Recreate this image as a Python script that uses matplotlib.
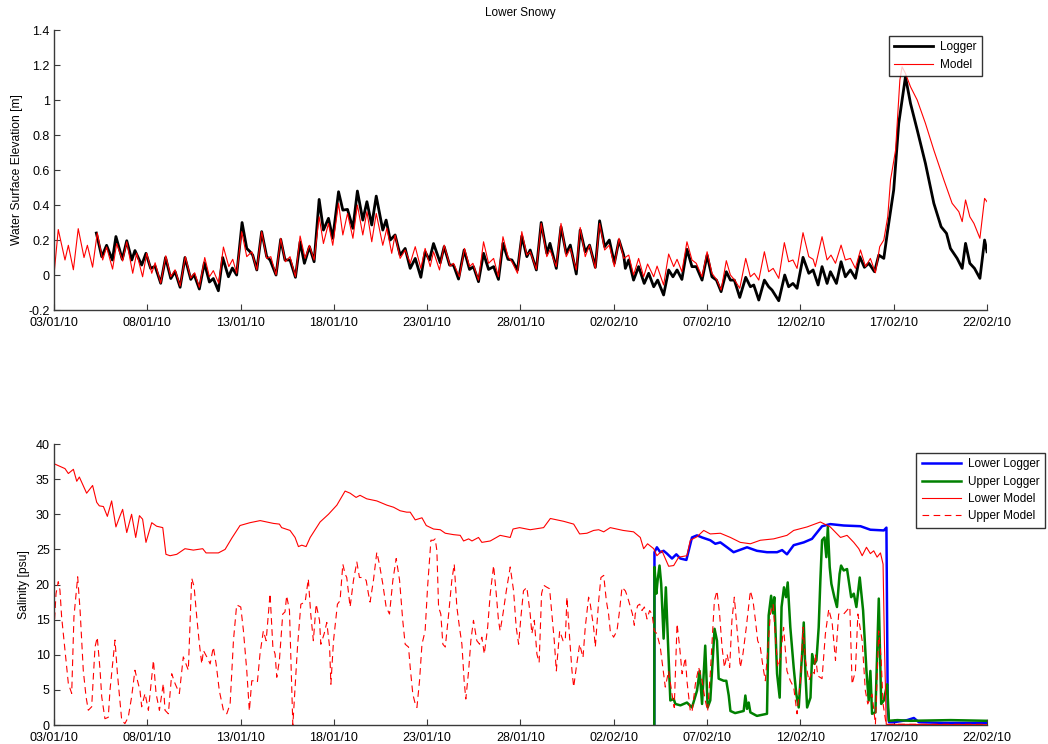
import numpy as np
import pandas as pd
import matplotlib
matplotlib.use("Agg")
import matplotlib.pyplot as plt
from matplotlib.ticker import FuncFormatter

plt.rcParams['font.family'] = ['Liberation Sans', 'DejaVu Sans']

# ---- data (day offset from 03/01/10, value) ----
START = pd.Timestamp('2010-01-03')
tick_dates = pd.date_range('2010-01-03', '2010-02-22', freq='5D')

# Water surface elevation [m]
elev_logger = [
    (2.27, 0.24), (2.56, 0.105), (2.82, 0.17), (3.13, 0.086), (3.32, 0.22), (3.66, 0.09),
    (3.9, 0.196), (4.17, 0.086), (4.34, 0.14), (4.7, 0.057), (4.93, 0.124), (5.18, 0.038),
    (5.42, 0.05), (5.72, -0.047), (5.98, 0.1), (6.26, -0.02), (6.49, 0.02), (6.76, -0.07),
    (7.02, 0.1), (7.33, -0.025), (7.51, 0.003), (7.79, -0.08), (8.06, 0.07), (8.33, -0.04),
    (8.54, -0.02), (8.81, -0.09), (9.04, 0.1), (9.35, -0.01), (9.56, 0.04), (9.79, 0.0),
    (10.08, 0.30), (10.33, 0.152), (10.51, 0.133), (10.65, 0.114), (10.87, 0.029),
    (11.13, 0.248), (11.4, 0.105), (11.58, 0.086), (11.9, 0.0), (12.15, 0.204),
    (12.38, 0.086), (12.65, 0.086), (12.94, -0.013), (13.19, 0.19), (13.42, 0.067),
    (13.69, 0.162), (13.94, 0.076), (14.21, 0.432), (14.44, 0.257), (14.71, 0.324),
    (14.94, 0.21), (15.25, 0.476), (15.48, 0.371), (15.73, 0.375), (16.02, 0.267),
    (16.26, 0.48), (16.55, 0.314), (16.77, 0.419), (17.03, 0.286), (17.27, 0.451),
    (17.62, 0.257), (17.8, 0.314), (18.02, 0.2), (18.28, 0.229), (18.55, 0.114),
    (18.82, 0.152), (19.09, 0.038), (19.36, 0.095), (19.66, -0.013), (19.89, 0.133),
    (20.12, 0.086), (20.34, 0.18), (20.7, 0.07), (20.91, 0.162), (21.2, 0.057),
    (21.41, 0.057), (21.68, -0.023), (21.98, 0.143), (22.27, 0.032), (22.48, 0.048),
    (22.75, -0.038), (23.02, 0.124), (23.29, 0.032), (23.56, 0.048), (23.82, -0.025),
    (24.06, 0.181), (24.33, 0.09), (24.54, 0.086), (24.84, 0.029), (25.07, 0.223),
    (25.34, 0.105), (25.52, 0.143), (25.85, 0.029), (26.11, 0.3), (26.41, 0.124),
    (26.58, 0.181), (26.92, 0.038), (27.17, 0.276), (27.45, 0.124), (27.67, 0.171),
    (27.99, 0.006), (28.2, 0.257), (28.47, 0.133), (28.7, 0.171), (29.01, 0.044),
    (29.24, 0.31), (29.51, 0.162), (29.76, 0.2), (30.03, 0.067), (30.28, 0.2),
    (30.53, 0.114), (30.62, 0.038), (30.8, 0.086), (31.06, -0.029), (31.33, 0.048),
    (31.63, -0.048), (31.87, 0.01), (32.14, -0.067), (32.35, -0.029), (32.67, -0.114),
    (32.94, 0.029), (33.17, -0.01), (33.39, 0.029), (33.65, -0.025), (33.92, 0.147),
    (34.19, 0.048), (34.42, 0.048), (34.73, -0.029), (35.0, 0.114), (35.26, -0.01),
    (35.5, -0.029), (35.75, -0.095), (36.03, 0.019), (36.25, -0.029), (36.46, -0.029),
    (36.75, -0.128), (37.07, -0.013), (37.32, -0.067), (37.5, -0.057), (37.77, -0.143),
    (38.07, -0.029), (38.3, -0.067), (38.48, -0.086), (38.84, -0.147), (39.16, 0.0),
    (39.37, -0.067), (39.6, -0.048), (39.82, -0.076), (40.14, 0.101), (40.45, 0.01),
    (40.68, 0.029), (40.95, -0.057), (41.16, 0.048), (41.43, -0.048), (41.61, 0.019),
    (41.93, -0.048), (42.18, 0.076), (42.41, -0.01), (42.68, 0.029), (42.95, -0.019),
    (43.18, 0.105), (43.43, 0.044), (43.67, 0.067), (43.97, 0.019), (44.2, 0.114),
    (44.47, 0.095), (44.68, 0.257), (45.0, 0.486), (45.27, 0.867), (45.63, 1.133),
    (45.9, 0.981), (46.26, 0.829), (46.7, 0.638), (47.15, 0.41), (47.54, 0.276),
    (47.83, 0.238), (48.04, 0.152), (48.4, 0.095), (48.67, 0.038), (48.85, 0.181),
    (49.08, 0.067), (49.33, 0.038), (49.62, -0.019), (49.87, 0.2), (50.0, 0.133),
]

elev_model = [
    (0.0, 0.0), (0.23, 0.26), (0.59, 0.086), (0.77, 0.17), (1.04, 0.03), (1.3, 0.265),
    (1.61, 0.10), (1.79, 0.17), (2.07, 0.045), (2.32, 0.24), (2.61, 0.086), (2.82, 0.16),
    (3.14, 0.034), (3.36, 0.18), (3.68, 0.08), (3.9, 0.19), (4.22, 0.01), (4.43, 0.125),
    (4.75, -0.01), (4.97, 0.125), (5.24, 0.01), (5.42, 0.07), (5.72, -0.047), (5.99, 0.11),
    (6.26, -0.01), (6.49, 0.03), (6.76, -0.063), (7.04, 0.105), (7.33, -0.018), (7.54, 0.013),
    (7.79, -0.07), (8.08, 0.1), (8.33, -0.01), (8.54, 0.025), (8.83, -0.047), (9.08, 0.16),
    (9.37, 0.048), (9.58, 0.09), (9.79, 0.01), (10.06, 0.248), (10.33, 0.105), (10.6, 0.133),
    (10.87, 0.029), (11.13, 0.248), (11.4, 0.095), (11.62, 0.105), (11.9, 0.0), (12.15, 0.21),
    (12.4, 0.076), (12.65, 0.105), (12.94, -0.01), (13.19, 0.223), (13.46, 0.095),
    (13.69, 0.17), (13.94, 0.086), (14.21, 0.333), (14.44, 0.18), (14.71, 0.295),
    (14.94, 0.17), (15.25, 0.41), (15.48, 0.229), (15.73, 0.352), (16.02, 0.21),
    (16.26, 0.40), (16.55, 0.229), (16.77, 0.362), (17.03, 0.19), (17.27, 0.352),
    (17.62, 0.17), (17.84, 0.267), (18.1, 0.124), (18.28, 0.229), (18.55, 0.095),
    (18.82, 0.143), (19.09, 0.067), (19.36, 0.162), (19.66, 0.038), (19.89, 0.152),
    (20.16, 0.048), (20.34, 0.133), (20.66, 0.029), (20.91, 0.171), (21.23, 0.051),
    (21.41, 0.067), (21.73, -0.01), (22.0, 0.152), (22.27, 0.048), (22.45, 0.067),
    (22.75, -0.029), (23.02, 0.19), (23.29, 0.067), (23.56, 0.095), (23.82, -0.01),
    (24.06, 0.219), (24.33, 0.105), (24.54, 0.076), (24.84, 0.01), (25.07, 0.248),
    (25.34, 0.114), (25.52, 0.133), (25.85, 0.032), (26.11, 0.295), (26.41, 0.105),
    (26.58, 0.143), (26.92, 0.048), (27.17, 0.295), (27.45, 0.105), (27.67, 0.152),
    (27.99, 0.029), (28.2, 0.272), (28.47, 0.105), (28.7, 0.171), (29.01, 0.038),
    (29.24, 0.295), (29.51, 0.143), (29.76, 0.171), (30.03, 0.048), (30.28, 0.21),
    (30.53, 0.095), (30.8, 0.114), (31.06, 0.0), (31.33, 0.095), (31.6, -0.01),
    (31.81, 0.063), (32.14, -0.01), (32.32, 0.051), (32.67, -0.057), (32.94, 0.12),
    (33.21, 0.048), (33.39, 0.09), (33.65, 0.019), (33.92, 0.19), (34.19, 0.086),
    (34.42, 0.067), (34.73, -0.01), (35.0, 0.133), (35.26, 0.01), (35.53, -0.029),
    (35.75, -0.086), (36.03, 0.082), (36.25, 0.0), (36.48, -0.029), (36.75, -0.076),
    (37.07, 0.095), (37.32, -0.01), (37.53, 0.01), (37.77, -0.029), (38.07, 0.133),
    (38.3, 0.019), (38.54, 0.038), (38.84, -0.019), (39.14, 0.185), (39.37, 0.076),
    (39.6, 0.086), (39.82, 0.038), (40.14, 0.242), (40.45, 0.105), (40.68, 0.09),
    (40.8, 0.048), (41.16, 0.219), (41.43, 0.086), (41.64, 0.114), (41.88, 0.067),
    (42.18, 0.171), (42.41, 0.086), (42.68, 0.095), (42.95, 0.038), (43.22, 0.143),
    (43.49, 0.048), (43.75, 0.095), (44.02, 0.013), (44.25, 0.162), (44.47, 0.2),
    (44.68, 0.333), (44.83, 0.543), (45.1, 0.714), (45.33, 1.114), (45.45, 1.19),
    (45.63, 1.152), (45.9, 1.076), (46.26, 1.0), (46.7, 0.867), (47.15, 0.714),
    (47.69, 0.543), (48.13, 0.41), (48.49, 0.362), (48.67, 0.305), (48.85, 0.429),
    (49.08, 0.333), (49.3, 0.295), (49.62, 0.21), (49.87, 0.438), (50.0, 0.419),
]

# Salinity [psu]
sal_lower_logger = [
    (32.17, 0.0), (32.18, 24.6), (32.31, 25.3), (32.49, 24.6), (32.67, 24.8), (32.85, 24.4),
    (33.12, 23.7), (33.35, 24.3), (33.57, 23.7), (33.89, 23.5), (34.19, 26.7), (34.46, 27.0),
    (34.73, 26.7), (35.17, 26.3), (35.44, 25.8), (35.71, 26.0), (36.07, 25.3), (36.42, 24.6),
    (37.14, 25.3), (37.67, 24.8), (38.21, 24.6), (38.75, 24.6), (39.02, 24.9), (39.28, 24.3),
    (39.64, 25.6), (40.18, 26.0), (40.62, 26.5), (41.16, 28.3), (41.6, 28.6), (42.32, 28.4),
    (43.22, 28.3), (43.75, 27.8), (44.47, 27.7), (44.61, 28.1), (44.68, 2.5), (44.75, 0.4),
    (45.0, 0.4), (45.72, 0.7), (46.08, 1.0), (46.35, 0.4), (47.69, 0.3), (50.0, 0.3),
]

sal_upper_logger = [
    (32.17, 0.0), (32.18, 22.5), (32.28, 18.7), (32.35, 20.6), (32.45, 22.7), (32.54, 20.1),
    (32.67, 12.3), (32.79, 19.6), (32.9, 12.0), (33.03, 3.5), (33.21, 3.7), (33.3, 3.0),
    (33.57, 2.8), (33.92, 3.2), (34.19, 2.5), (34.46, 4.9), (34.6, 7.7), (34.73, 3.0),
    (34.9, 11.3), (35.03, 2.5), (35.17, 3.5), (35.4, 13.7), (35.53, 12.0), (35.62, 6.6),
    (35.89, 6.3), (36.03, 6.3), (36.16, 4.2), (36.25, 2.0), (36.5, 1.7), (36.96, 2.0),
    (37.05, 4.2), (37.14, 2.3), (37.23, 3.2), (37.32, 1.8), (37.67, 1.3), (38.21, 1.6),
    (38.3, 15.6), (38.43, 18.4), (38.53, 15.9), (38.6, 18.2), (38.75, 7.3), (38.89, 3.9),
    (38.99, 16.8), (39.12, 19.6), (39.23, 18.2), (39.32, 20.3), (39.46, 13.9), (39.64, 8.2),
    (39.78, 4.4), (39.91, 2.5), (40.09, 10.1), (40.18, 14.6), (40.27, 7.3), (40.36, 2.5),
    (40.54, 3.9), (40.63, 10.1), (40.75, 8.7), (40.86, 9.2), (40.98, 13.9), (41.07, 20.6),
    (41.16, 26.3), (41.29, 26.7), (41.39, 23.9), (41.47, 28.2), (41.57, 22.5), (41.66, 20.1),
    (41.82, 18.2), (41.96, 16.8), (42.1, 21.5), (42.18, 22.7), (42.32, 22.0), (42.5, 22.2),
    (42.72, 18.2), (42.86, 18.7), (43.0, 16.8), (43.18, 21.0), (43.36, 16.3), (43.54, 7.7),
    (43.66, 3.5), (43.75, 7.7), (43.84, 1.6), (44.02, 1.8), (44.2, 18.0), (44.33, 3.0),
    (44.47, 3.5), (44.56, 4.7), (44.65, 5.8), (44.74, 0.6), (45.2, 0.7), (45.9, 0.6),
    (48.04, 0.7), (50.0, 0.6),
]

sal_lower_model = [
    (0.0, 37.2), (0.59, 36.5), (0.77, 35.8), (1.04, 36.4), (1.22, 34.7), (1.36, 35.3),
    (1.75, 33.0), (2.07, 34.1), (2.29, 31.7), (2.43, 31.2), (2.65, 31.1), (2.86, 29.7),
    (3.09, 31.9), (3.32, 28.2), (3.5, 29.5), (3.68, 30.7), (3.9, 27.4), (4.16, 30.0),
    (4.38, 26.7), (4.58, 29.8), (4.75, 29.3), (4.93, 26.0), (5.24, 28.8), (5.5, 28.3),
    (5.83, 28.1), (6.0, 24.3), (6.22, 24.1), (6.58, 24.3), (7.02, 25.1), (7.47, 24.9),
    (7.97, 25.1), (8.15, 24.5), (8.81, 24.5), (9.17, 25.0), (9.53, 26.6), (9.97, 28.4),
    (10.5, 28.8), (11.05, 29.1), (11.76, 28.7), (12.08, 28.6), (12.2, 28.1), (12.65, 27.7),
    (12.92, 26.7), (13.1, 25.4), (13.28, 25.6), (13.51, 25.4), (13.73, 26.7), (14.26, 28.9),
    (14.71, 30.0), (15.16, 31.3), (15.6, 33.3), (15.87, 33.0), (16.19, 32.4), (16.4, 32.7),
    (16.76, 32.2), (17.3, 31.9), (17.84, 31.3), (18.2, 31.0), (18.55, 30.5), (18.9, 30.3),
    (19.09, 30.3), (19.36, 29.2), (19.72, 29.5), (19.95, 28.4), (20.34, 27.9), (20.7, 27.8),
    (20.97, 27.3), (21.41, 27.1), (21.77, 27.0), (21.95, 26.2), (22.22, 26.5), (22.4, 26.2),
    (22.75, 26.7), (22.93, 26.0), (23.38, 26.2), (23.91, 27.0), (24.45, 26.7), (24.6, 27.9),
    (24.95, 28.1), (25.52, 27.8), (26.24, 28.1), (26.6, 29.4), (27.31, 29.0), (27.85, 28.6),
    (28.17, 27.2), (28.56, 27.3), (28.92, 27.7), (29.19, 27.8), (29.46, 27.5), (29.81, 28.1),
    (30.5, 27.7), (31.06, 27.5), (31.42, 26.7), (31.6, 25.1), (31.81, 25.8), (32.14, 25.1),
    (32.31, 24.1), (32.58, 24.8), (32.94, 22.6), (33.21, 22.7), (33.48, 23.9), (33.92, 24.1),
    (34.1, 26.3), (34.46, 26.8), (34.82, 27.7), (35.17, 27.2), (35.71, 27.3), (36.25, 26.7),
    (36.78, 26.0), (37.32, 25.8), (37.85, 26.3), (38.57, 26.5), (39.28, 27.0), (39.64, 27.7),
    (40.36, 28.2), (41.07, 28.9), (41.6, 28.2), (42.15, 26.7), (42.5, 27.0), (42.86, 26.0),
    (43.13, 25.1), (43.31, 24.1), (43.54, 25.3), (43.75, 24.4), (43.93, 24.8), (44.11, 23.9),
    (44.29, 24.5), (44.43, 22.9), (44.5, 12.0), (44.6, 0.1), (50.0, 0.05),
]

sal_upper_model = [
    (0.0, 13.5), (0.11, 18.7), (0.23, 20.4), (0.32, 19.2), (0.41, 15.4), (0.59, 10.6),
    (0.77, 5.9), (0.95, 4.5), (1.07, 15.4), (1.27, 21.1), (1.4, 16.3), (1.57, 7.8),
    (1.72, 4.0), (1.84, 2.1), (2.02, 2.6), (2.2, 11.1), (2.32, 12.5), (2.47, 7.8),
    (2.56, 4.0), (2.73, 0.9), (2.91, 1.1), (3.0, 4.9), (3.27, 12.1), (3.4, 7.3),
    (3.63, 0.7), (3.8, 0.2), (3.98, 1.1), (4.16, 4.0), (4.34, 7.8), (4.43, 6.8),
    (4.61, 4.9), (4.7, 2.6), (4.88, 4.5), (5.06, 2.1), (5.33, 9.2), (5.47, 4.5),
    (5.65, 2.1), (5.86, 5.9), (5.95, 2.1), (6.13, 1.6), (6.31, 7.3), (6.49, 5.9),
    (6.72, 4.5), (6.93, 9.7), (7.2, 7.8), (7.38, 20.9), (7.51, 19.7), (7.65, 15.4),
    (7.79, 11.6), (7.92, 8.7), (8.01, 10.6), (8.19, 9.7), (8.37, 8.7), (8.54, 11.1),
    (8.69, 8.7), (8.86, 4.9), (9.08, 2.1), (9.26, 1.6), (9.44, 3.0), (9.62, 12.1),
    (9.79, 17.1), (10.01, 16.8), (10.15, 13.5), (10.33, 7.8), (10.47, 2.0), (10.6, 6.3),
    (10.78, 6.3), (10.9, 6.1), (11.04, 10.1), (11.22, 13.4), (11.37, 12.0), (11.58, 18.7),
    (11.73, 11.1), (11.85, 10.1), (11.94, 6.8), (12.08, 9.2), (12.26, 15.8), (12.38, 16.1),
    (12.47, 18.4), (12.62, 16.3), (12.69, 10.1), (12.8, 0.0), (12.92, 5.4), (13.05, 11.1),
    (13.23, 17.2), (13.46, 17.5), (13.63, 20.8), (13.76, 15.8), (13.9, 12.0), (14.05, 17.2),
    (14.23, 14.9), (14.3, 11.5), (14.48, 13.0), (14.62, 14.6), (14.77, 11.1), (14.84, 5.8),
    (14.98, 12.0), (15.19, 17.2), (15.33, 17.7), (15.48, 22.9), (15.6, 21.5), (15.69, 21.0),
    (15.87, 16.8), (16.05, 20.6), (16.23, 23.2), (16.37, 21.0), (16.55, 21.0), (16.73, 20.6),
    (16.85, 18.7), (16.94, 17.5), (17.12, 20.6), (17.3, 24.6), (17.44, 22.9), (17.62, 20.1),
    (17.8, 16.8), (17.98, 15.8), (18.16, 20.6), (18.34, 23.7), (18.52, 20.6), (18.69, 14.9),
    (18.82, 11.5), (19.0, 11.1), (19.09, 8.2), (19.23, 4.4), (19.36, 3.0), (19.45, 2.5),
    (19.59, 6.3), (19.72, 11.5), (19.89, 13.4), (20.02, 19.6), (20.2, 26.3), (20.34, 26.3),
    (20.43, 26.5), (20.52, 24.8), (20.61, 16.8), (20.73, 15.8), (20.84, 11.5), (20.97, 11.1),
    (21.15, 15.8), (21.32, 20.6), (21.45, 22.9), (21.59, 16.8), (21.73, 13.9), (21.86, 11.5),
    (21.98, 6.3), (22.07, 3.7), (22.22, 7.7), (22.34, 12.0), (22.48, 14.9), (22.66, 12.0),
    (22.81, 11.5), (22.93, 12.5), (23.06, 10.1), (23.24, 13.9), (23.38, 18.7), (23.56, 22.7),
    (23.7, 18.7), (23.82, 14.9), (23.91, 13.4), (24.06, 15.8), (24.24, 19.1), (24.45, 22.5),
    (24.63, 19.1), (24.77, 13.9), (24.9, 11.5), (25.02, 15.3), (25.16, 19.1), (25.34, 19.6),
    (25.52, 15.8), (25.61, 13.0), (25.74, 14.9), (25.88, 10.1), (26.0, 8.9), (26.13, 18.7),
    (26.24, 19.9), (26.42, 19.6), (26.56, 19.4), (26.68, 15.8), (26.81, 12.0), (26.92, 7.7),
    (27.1, 13.4), (27.28, 12.0), (27.4, 12.0), (27.49, 18.2), (27.63, 12.5), (27.76, 7.7),
    (27.85, 5.4), (27.99, 8.2), (28.17, 11.5), (28.35, 9.6), (28.47, 13.9), (28.65, 18.2),
    (28.74, 17.2), (28.92, 13.9), (29.01, 11.1), (29.19, 17.7), (29.31, 21.0), (29.46, 21.3),
    (29.6, 17.7), (29.72, 15.8), (29.81, 13.4), (29.99, 12.5), (30.17, 13.4), (30.31, 16.3),
    (30.44, 19.6), (30.62, 19.1), (30.74, 18.2), (30.89, 16.8), (31.0, 15.8), (31.1, 14.2),
    (31.15, 15.8), (31.28, 17.0), (31.39, 17.2), (31.51, 16.3), (31.64, 16.8), (31.78, 15.1),
    (31.92, 16.3), (32.05, 15.8), (32.17, 13.4), (32.31, 13.0), (32.49, 11.1), (32.63, 8.2),
    (32.76, 5.4), (32.94, 7.7), (33.12, 4.4), (33.24, 2.5), (33.39, 14.4), (33.53, 11.1),
    (33.66, 7.3), (33.84, 9.6), (33.92, 6.3), (34.1, 2.0), (34.19, 1.8), (34.37, 5.8),
    (34.55, 8.2), (34.73, 6.3), (34.9, 3.5), (35.03, 2.0), (35.17, 7.3), (35.39, 17.7),
    (35.53, 19.1), (35.67, 15.8), (35.8, 11.1), (35.93, 8.2), (36.07, 10.1), (36.21, 8.2),
    (36.33, 14.9), (36.46, 18.2), (36.6, 13.9), (36.78, 8.2), (36.92, 10.1), (37.1, 13.9),
    (37.32, 19.1), (37.46, 17.7), (37.59, 14.9), (37.71, 12.0), (37.85, 11.1), (38.0, 8.2),
    (38.12, 6.3), (38.25, 10.6), (38.39, 15.8), (38.54, 17.2), (38.66, 12.5), (38.79, 8.2),
    (38.93, 9.6), (39.1, 13.9), (39.28, 7.7), (39.46, 6.3), (39.64, 5.4), (39.82, 1.6),
    (40.0, 6.3), (40.14, 13.9), (40.27, 9.2), (40.45, 6.3), (40.63, 7.7), (40.75, 7.3),
    (40.8, 10.1), (40.93, 7.0), (41.16, 6.6), (41.34, 13.0), (41.52, 16.5), (41.7, 14.6),
    (41.88, 9.2), (42.05, 15.8), (42.32, 15.8), (42.65, 16.8), (42.77, 5.8), (42.95, 7.7),
    (43.08, 15.8), (43.31, 12.0), (43.48, 4.9), (43.61, 3.0), (43.84, 4.4), (44.02, 0.1),
    (44.2, 13.4), (44.33, 9.2), (44.43, 3.0), (44.6, 0.0), (45.0, 0.1), (50.0, 0.1),
]


def to_series(pairs):
    arr = np.array(pairs, dtype=float)
    times = START + pd.to_timedelta(arr[:, 0], unit='D')
    return times, arr[:, 1]


def style_axes(ax, ylim, yticks):
    ax.set_xlim(tick_dates[0], tick_dates[-1])
    ax.set_ylim(*ylim)
    ax.set_yticks(yticks)
    ax.set_xticks(tick_dates)
    ax.set_xticklabels([d.strftime('%d/%m/%y') for d in tick_dates])
    ax.yaxis.set_major_formatter(FuncFormatter(lambda v, p: f"{v:g}"))
    ax.spines['top'].set_visible(False)
    ax.spines['right'].set_visible(False)
    for s in ('left', 'bottom'):
        ax.spines[s].set_color('#3a3a3a')
        ax.spines[s].set_linewidth(1.0)
    ax.tick_params(direction='in', length=4, width=0.8, color='#3a3a3a',
                   labelsize=9, top=False, right=False)
    ax.tick_params(axis='x', pad=5)
    ax.tick_params(axis='y', pad=3)


def add_legend(ax, anchor):
    leg = ax.legend(loc='upper right', bbox_to_anchor=anchor, borderaxespad=0,
                    fontsize=8.5, fancybox=False, edgecolor='black', handlelength=3.3,
                    borderpad=0.45, labelspacing=0.45, handletextpad=0.6)
    leg.get_frame().set_linewidth(1.0)


def main():
    fig = plt.figure(figsize=(10.48, 7.44), dpi=100)
    ax1 = fig.add_axes([0.0515, 0.5833, 0.8903, 0.3763])
    ax2 = fig.add_axes([0.0515, 0.0255, 0.8903, 0.3777])

    # Top panel: water surface elevation
    t, v = to_series(elev_logger)
    ax1.plot(t, v, color='black', linewidth=2.0, label='Logger')
    t, v = to_series(elev_model)
    ax1.plot(t, v, color='red', linewidth=0.8, label='Model')
    style_axes(ax1, (-0.2, 1.4), np.arange(-0.2, 1.41, 0.2))
    ax1.set_ylabel('Water Surface Elevation [m]', fontsize=8.7, labelpad=4)
    ax1.set_title('Lower Snowy', fontsize=8.5, pad=10)
    add_legend(ax1, (0.9946, 0.9786))

    # Bottom panel: salinity
    t, v = to_series(sal_lower_logger)
    ax2.plot(t, v, color='#0000ff', linewidth=1.8, label='Lower Logger')
    t, v = to_series(sal_upper_logger)
    ax2.plot(t, v, color='#008000', linewidth=1.8, label='Upper Logger')
    t, v = to_series(sal_lower_model)
    ax2.plot(t, v, color='red', linewidth=0.8, label='Lower Model')
    t, v = to_series(sal_upper_model)
    ax2.plot(t, v, color='red', linewidth=0.8, linestyle=(0, (6, 4)), label='Upper Model')
    style_axes(ax2, (0, 40), np.arange(0, 41, 5))
    ax2.set_ylabel('Salinity [psu]', fontsize=8.7, labelpad=4)
    add_legend(ax2, (1.062, 0.968))

    fig.savefig('out.png', dpi=100)
    plt.close(fig)


if __name__ == "__main__":
    main()
